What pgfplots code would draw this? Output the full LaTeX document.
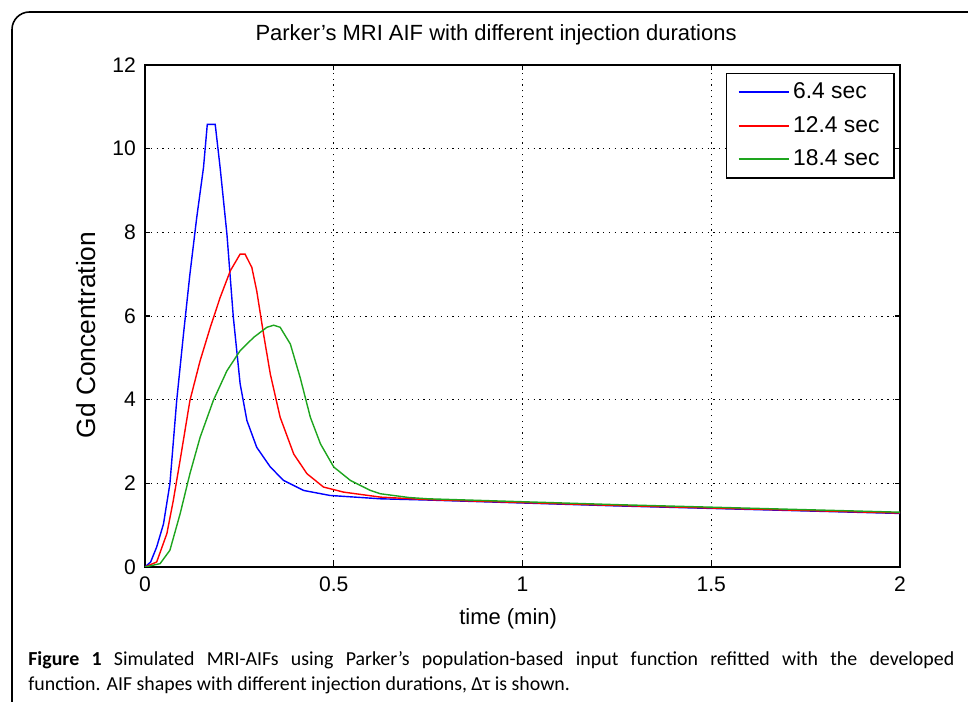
\documentclass[border=0pt]{standalone}
\usepackage{fontspec}
\setmainfont{Liberation Sans}
\newfontfamily\capfont{Carlito}
\usepackage{pgfplots}
\pgfplotsset{compat=1.18}
\definecolor{mlgreen}{RGB}{30,165,30}
\begin{document}
\begin{tikzpicture}
\useasboundingbox (-2.9,-2.7) rectangle (16.46,11.34);
% outer frame (only top and left edges are visible)
\begin{scope}
\clip (-2.9,-2.7) rectangle (16.46,11.34);
\draw[line width=0.9pt, rounded corners=0.35cm] (-2.66,-3) -- (-2.66,11.10) -- (17,11.10);
\end{scope}
\begin{axis}[
    at={(0,0)}, anchor=south west,
    scale only axis, width=15.1cm, height=10.04cm,
    xmin=0, xmax=2, ymin=0, ymax=12,
    xtick={0,0.5,1,1.5,2}, ytick={0,2,4,6,8,10,12},
    tick align=inside, major tick length=0.11cm,
    grid=major,
    grid style={black, line width=0.5pt, dash pattern=on 0.7pt off 2.6pt},
    axis line style={line width=0.8pt},
    tick style={black, line width=0.8pt},
    /pgf/number format/assume math mode=true,
    ticklabel style={font=\fontsize{12}{14}\selectfont},
    xticklabel style={yshift=-0.08cm},
    yticklabel style={xshift=-0.06cm},
    title={Parker's MRI AIF with different injection durations},
    title style={at={(0.465,1)}, anchor=base, yshift=0.28cm, font=\fontsize{12.5}{14}\selectfont},
    xlabel={time (min)},
    xlabel style={at={(axis description cs:0.481,0)}, anchor=base, yshift=-1.16cm, font=\fontsize{12.5}{14}\selectfont},
    ylabel={Gd Concentration},
    ylabel style={at={(axis description cs:-0.0662,0.462)}, anchor=base, font=\fontsize{15}{17}\selectfont},
    legend style={at={(0.993,0.985)}, anchor=north east, draw=black, line width=0.8pt,
        font=\fontsize{13}{15}\selectfont, row sep=0.16cm, inner xsep=0.22cm, inner ysep=0.12cm},
    legend cell align=left,
    legend image code/.code={\draw[#1, line width=1.1pt] (0cm,0cm) -- (1.0cm,0cm);},
    every axis plot/.append style={line width=0.8pt},
]
\addplot[blue] coordinates {
(0,0) (0.015,0.12) (0.031,0.48) (0.049,1.03) (0.066,1.99) (0.084,3.98) (0.102,5.57)
(0.119,7.0) (0.137,8.35) (0.155,9.55) (0.165,10.58) (0.186,10.58) (0.199,9.55)
(0.217,7.96) (0.234,5.97) (0.252,4.38) (0.270,3.5) (0.296,2.86) (0.332,2.39)
(0.367,2.07) (0.42,1.83) (0.49,1.71) (0.624,1.63) (0.75,1.6) (1.0,1.53)
(1.25,1.46) (1.5,1.40) (1.75,1.34) (2.0,1.28)
};
\addlegendentry{6.4 sec}
\addplot[red] coordinates {
(0,0) (0.031,0.12) (0.058,0.8) (0.075,1.59) (0.093,2.55) (0.119,3.98) (0.146,4.93)
(0.173,5.73) (0.199,6.44) (0.226,7.08) (0.252,7.48) (0.265,7.48) (0.283,7.16)
(0.296,6.6) (0.314,5.57) (0.332,4.61) (0.358,3.58) (0.394,2.7) (0.429,2.23)
(0.473,1.91) (0.526,1.79) (0.624,1.67) (0.75,1.61) (1.0,1.54) (1.25,1.47)
(1.5,1.41) (1.75,1.35) (2.0,1.29)
};
\addlegendentry{12.4 sec}
\addplot[mlgreen] coordinates {
(0,0) (0.04,0.08) (0.066,0.4) (0.093,1.27) (0.119,2.23) (0.146,3.1) (0.181,3.98)
(0.217,4.69) (0.252,5.17) (0.288,5.49) (0.323,5.73) (0.341,5.78) (0.358,5.73)
(0.385,5.33) (0.411,4.53) (0.438,3.58) (0.465,2.94) (0.5,2.39) (0.544,2.07)
(0.597,1.83) (0.624,1.75) (0.7,1.66) (0.75,1.63) (1.0,1.56) (1.25,1.49)
(1.5,1.43) (1.75,1.37) (2.0,1.31)
};
\addlegendentry{18.4 sec}
\end{axis}
\node[anchor=base west, inner sep=0pt, text width=18.52cm, align=justify,
      font=\capfont\fontsize{11.3}{14.2}\selectfont] at (-2.34,-1.98)
  {\textbf{Figure 1} Simulated MRI-AIFs using Parker’s population-based input function refitted with the developed\linebreak function. AIF shapes with different injection durations, Δτ is shown.};
\end{tikzpicture}
\end{document}
